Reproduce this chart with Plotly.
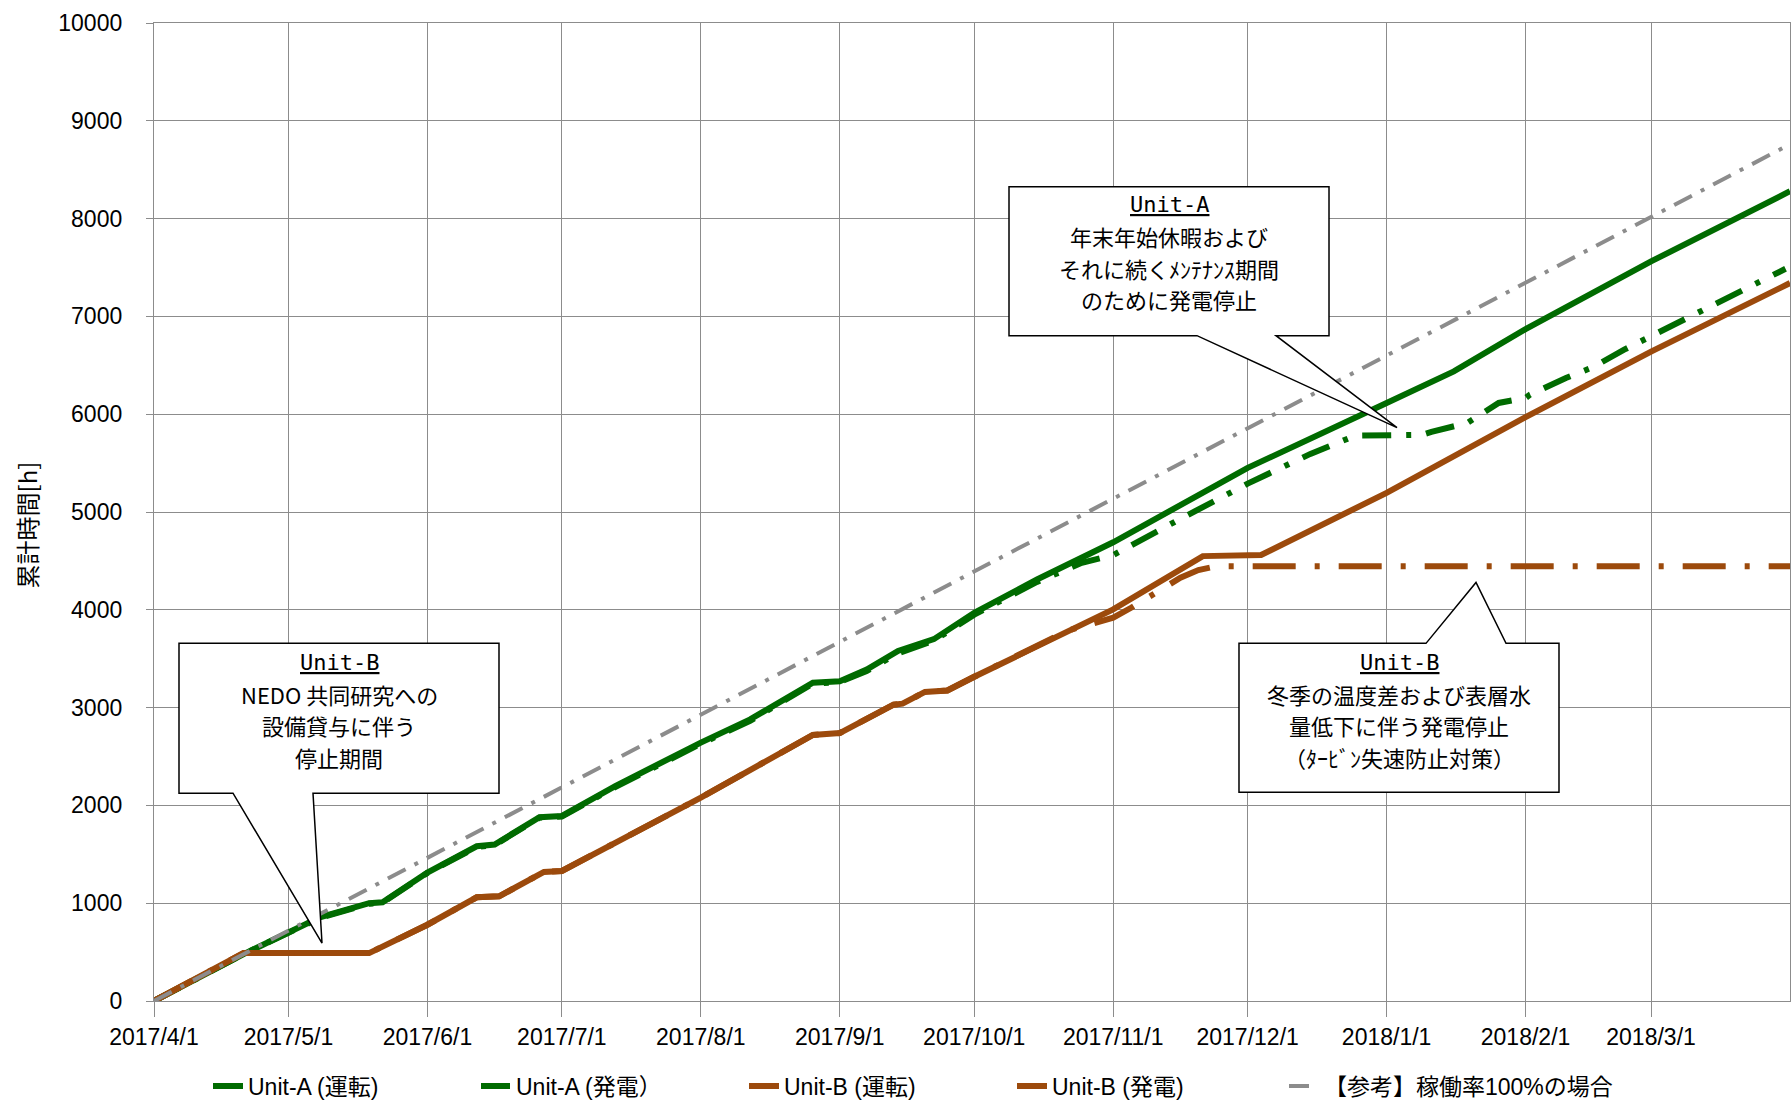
import plotly.graph_objects as go

# ---------------- data ----------------
ua_run_dates = ["2017-04-01", "2017-04-21", "2017-05-08", "2017-05-19", "2017-05-22", "2017-06-01",
                "2017-06-12", "2017-06-16", "2017-06-26", "2017-07-01", "2017-07-13", "2017-08-01",
                "2017-08-12", "2017-08-26", "2017-09-01", "2017-09-07", "2017-09-14", "2017-09-22",
                "2017-10-01", "2017-10-15", "2017-11-01", "2017-12-01", "2018-01-01", "2018-01-16",
                "2018-02-01", "2018-03-01", "2018-04-01"]
ua_run_vals = [0, 480, 855, 1000, 1010, 1314,
               1582, 1600, 1880, 1892, 2200, 2642,
               2880, 3255, 3270, 3390, 3580, 3700,
               3970, 4310, 4690, 5451, 6115, 6438,
               6870, 7562, 8280]

ua_gen_dates = ["2017-04-01", "2017-04-21", "2017-05-08", "2017-05-19", "2017-05-22", "2017-06-01",
                "2017-06-12", "2017-06-16", "2017-06-26", "2017-07-01", "2017-07-13", "2017-08-01",
                "2017-08-12", "2017-08-26", "2017-09-01", "2017-09-07", "2017-09-14", "2017-09-22",
                "2017-10-01", "2017-10-15", "2017-10-25", "2017-11-01", "2017-11-15", "2017-12-01",
                "2017-12-15", "2017-12-25", "2018-01-09", "2018-01-11", "2018-01-19", "2018-01-24",
                "2018-01-26", "2018-02-01", "2018-02-02", "2018-02-10", "2018-02-16", "2018-02-23",
                "2018-03-01", "2018-03-08", "2018-03-14", "2018-03-21", "2018-03-27", "2018-03-31"]
ua_gen_vals = [0, 480, 850, 995, 1005, 1310,
               1575, 1595, 1875, 1885, 2190, 2630,
               2865, 3245, 3262, 3375, 3555, 3685,
               3950, 4285, 4480, 4560, 4906, 5290,
               5594, 5781, 5790, 5819, 5911, 6054,
               6115, 6166, 6200, 6370, 6480, 6660,
               6796, 6956, 7086, 7255, 7392, 7487]

ub_run_dates = ["2017-04-01", "2017-04-21", "2017-05-19", "2017-06-01", "2017-06-12", "2017-06-17",
                "2017-06-27", "2017-07-01", "2017-07-13", "2017-08-01", "2017-08-26", "2017-09-01",
                "2017-09-13", "2017-09-15", "2017-09-20", "2017-09-25", "2017-10-01", "2017-10-15",
                "2017-11-01", "2017-11-21", "2017-12-04", "2018-01-01", "2018-01-15", "2018-02-01",
                "2018-03-01", "2018-04-01"]
ub_run_vals = [0, 490, 490, 780, 1060, 1070,
               1320, 1330, 1620, 2080, 2720, 2740,
               3030, 3040, 3160, 3175, 3315, 3629,
               4004, 4549, 4560, 5196, 5553, 5970,
               6640, 7341]

ub_gen_dates = ["2017-04-01", "2017-04-21", "2017-05-19", "2017-06-01", "2017-06-12", "2017-06-17",
                "2017-06-27", "2017-07-01", "2017-07-13", "2017-08-01", "2017-08-26", "2017-09-01",
                "2017-09-13", "2017-09-15", "2017-09-20", "2017-09-25", "2017-10-01", "2017-10-15",
                "2017-10-22", "2017-11-01", "2017-11-05", "2017-11-16", "2017-11-20", "2017-11-24",
                "2018-04-01"]
ub_gen_vals = [0, 490, 490, 780, 1060, 1070,
               1320, 1330, 1620, 2080, 2720, 2740,
               3030, 3040, 3160, 3175, 3315, 3629,
               3790, 3919, 4021, 4328, 4406, 4445,
               4445]

ref_dates = ["2017-04-01", "2017-05-01", "2017-06-01", "2017-07-01", "2017-08-01", "2017-09-01",
             "2017-10-01", "2017-11-01", "2017-12-01", "2018-01-01", "2018-02-01", "2018-03-01",
             "2018-03-31"]
ref_vals = [0, 720, 1464, 2184, 2928, 3672, 4392, 5136, 5856, 6600, 7344, 8016, 8736]

x_tick_vals = ["2017-04-01", "2017-05-01", "2017-06-01", "2017-07-01", "2017-08-01", "2017-09-01",
               "2017-10-01", "2017-11-01", "2017-12-01", "2018-01-01", "2018-02-01", "2018-03-01"]
x_tick_text = ["2017/4/1", "2017/5/1", "2017/6/1", "2017/7/1", "2017/8/1", "2017/9/1",
               "2017/10/1", "2017/11/1", "2017/12/1", "2018/1/1", "2018/2/1", "2018/3/1"]

series_names = ["Unit-A (運転)", "Unit-A (発電）", "Unit-B (運転)", "Unit-B (発電)", "【参考】稼働率100%の場合"]

callout_lines = [
    ["Unit-B", "NEDO 共同研究への", "設備貸与に伴う", "停止期間"],
    ["Unit-A", "年末年始休暇および", "それに続くﾒﾝﾃﾅﾝｽ期間", "のために発電停止"],
    ["Unit-B", "冬季の温度差および表層水", "量低下に伴う発電停止", "（ﾀｰﾋﾞﾝ失速防止対策）"],
]

# ---------------- style ----------------
GREEN = "#006b00"
BROWN = "#9c4a0c"
GRAY = "#8c8c8c"
GRID = "#8c8c8c"
W, H = 1792, 1108
ML, MR, MT, MB = 154, 2, 23, 106
PW, PH = W - ML - MR, H - MT - MB

NUM_FONT = "Liberation Sans, Noto Sans CJK JP, sans-serif"
JP_FONT = "Noto Sans CJK JP, sans-serif"
MONO_FONT = "DejaVu Sans Mono, monospace"


def pp(x, y):
    """pixel -> paper coords"""
    return ((x - ML) / PW, (MT + PH - y) / PH)


fig = go.Figure()
fig.add_trace(go.Scatter(x=ua_run_dates, y=ua_run_vals, mode="lines", name=series_names[0],
                         line=dict(color=GREEN, width=6)))
fig.add_trace(go.Scatter(x=ua_gen_dates, y=ua_gen_vals, mode="lines", name=series_names[1],
                         line=dict(color=GREEN, width=6, dash="29px,15px,5px,15px")))
fig.add_trace(go.Scatter(x=ub_run_dates, y=ub_run_vals, mode="lines", name=series_names[2],
                         line=dict(color=BROWN, width=6)))
fig.add_trace(go.Scatter(x=ub_gen_dates, y=ub_gen_vals, mode="lines", name=series_names[3],
                         line=dict(color=BROWN, width=6, dash="43px,19px,5px,19px")))
fig.add_trace(go.Scatter(x=ref_dates, y=ref_vals, mode="lines", name=series_names[4],
                         line=dict(color=GRAY, width=4, dash="20px,10px,4px,10px"),
                         legend="legend2"))

# ---------------- callouts ----------------
def poly(points):
    pts = [pp(x, y) for x, y in points]
    return "M " + " L ".join(f"{a:.5f},{b:.5f}" for a, b in pts) + " Z"

callouts = [
    [(179, 644), (499, 644), (499, 794), (313, 794), (322, 944), (233, 794), (179, 794)],
    [(1009, 187), (1329, 187), (1329, 336), (1276, 336), (1397, 428), (1197, 336), (1009, 336)],
    [(1239, 644), (1426, 644), (1476, 583), (1506, 644), (1559, 644), (1559, 793), (1239, 793)],
]
shapes = [dict(type="path", xref="paper", yref="paper", path=poly(c),
               fillcolor="white", line=dict(color="black", width=1.5), layer="above")
          for c in callouts]

callout_first_line = [(339, 663), (1169, 205), (1399, 663)]
LINE_STEP = 31.5
annotations = []
for lines, (cx, cy0) in zip(callout_lines, callout_first_line):
    for i, t in enumerate(lines):
        ax_, ay_ = pp(cx, cy0 + i * LINE_STEP)
        if i == 0:
            txt, fnt = "<u>" + t + "</u>", dict(family=MONO_FONT, size=22, color="black")
        else:
            txt, fnt = t, dict(family=JP_FONT, size=22, color="black")
        annotations.append(dict(xref="paper", yref="paper", x=ax_, y=ay_, text=txt, showarrow=False,
                                xanchor="center", yanchor="middle", align="center", font=fnt))

tx, ty = pp(26, 526)
annotations.append(dict(xref="paper", yref="paper", x=tx, y=ty, text="累計時間[h]", showarrow=False,
                        textangle=-90, xanchor="center", yanchor="middle",
                        font=dict(family=JP_FONT, size=24, color="black")))

lx, ly = pp(208, 1086)
l2x, _ = pp(1284, 1086)
legend_font = dict(family=NUM_FONT, size=23, color="black")

fig.update_layout(
    width=W, height=H,
    margin=dict(l=ML, r=MR, t=MT, b=MB),
    paper_bgcolor="white", plot_bgcolor="white",
    showlegend=True,
    legend=dict(orientation="h", x=lx, y=ly, xanchor="left", yanchor="middle",
                font=legend_font, entrywidth=223, entrywidthmode="pixels",
                bgcolor="rgba(0,0,0,0)"),
    legend2=dict(orientation="h", x=l2x, y=ly, xanchor="left", yanchor="middle",
                 font=legend_font, bgcolor="rgba(0,0,0,0)"),
    shapes=shapes,
    annotations=annotations,
    xaxis=dict(type="date", range=["2017-04-01", "2018-04-01"],
               tickmode="array", tickvals=x_tick_vals, ticktext=x_tick_text,
               showgrid=True, gridcolor=GRID, gridwidth=1.3,
               ticks="outside", ticklen=15, tickcolor=GRID, tickwidth=1.3,
               showline=True, linecolor=GRID, linewidth=1.3, mirror=True,
               tickfont=dict(family=NUM_FONT, size=23, color="black"),
               zeroline=False, fixedrange=True),
    yaxis=dict(range=[0, 10000], tickmode="linear", tick0=0, dtick=1000, tickformat="d",
               showgrid=True, gridcolor=GRID, gridwidth=1.3,
               ticks="outside", ticklen=7, tickcolor=GRID, tickwidth=1.3,
               showline=True, linecolor=GRID, linewidth=1.3, mirror=True,
               tickfont=dict(family=NUM_FONT, size=23, color="black"),
               ticklabelstandoff=19, zeroline=False, fixedrange=True),
)

fig.write_html("out.html", config={"displayModeBar": False},
               post_script="document.body.style.margin='0';document.body.style.overflow='hidden';")
